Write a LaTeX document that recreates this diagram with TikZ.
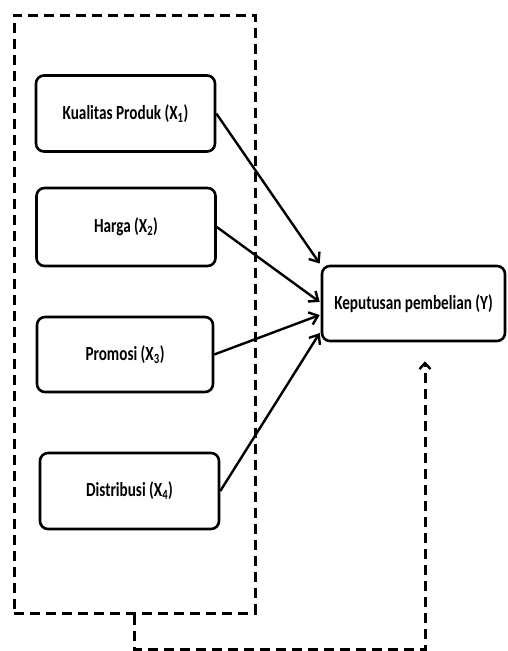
\documentclass[tikz,border=0pt]{standalone}
\usepackage{fontspec}
\setmainfont{Carlito}[FakeStretch=0.76]
\usetikzlibrary{arrows.meta}
\begin{document}
\begin{tikzpicture}[x=1pt,y=-1pt,
  varbox/.style={draw=black,line width=2.6pt,rounded corners=8pt,fill=white,
    minimum width=179pt,minimum height=76pt,inner sep=0pt,
    font=\fontsize{20}{22}\selectfont\bfseries},
  grpbox/.style={draw=black,line width=3pt,dash pattern=on 10pt off 6pt},
  conn/.style={draw=black,line width=2.4pt,-{Straight Barb[length=8pt,width=13pt,line width=2.4pt]}},
  fback/.style={draw=black,line width=3pt,dash pattern=on 10pt off 6pt,
    -{Straight Barb[length=6pt,width=11pt,line width=2.4pt]}}]
\useasboundingbox (0,0) rectangle (507,651);
\node[grpbox,minimum width=241pt,minimum height=598pt,inner sep=0pt] (grp) at (134.5,314) {};
\node[varbox] (b1) at (125.5,113.5) {Kualitas Produk (X\textsubscript{1})};
\node[varbox,minimum height=78pt] (b2) at (126,227) {Harga (X\textsubscript{2})};
\node[varbox,minimum width=176pt,minimum height=75pt] (b3) at (125,354.5) {Promosi (X\textsubscript{3})};
\node[varbox] (b4) at (129.5,491) {Distribusi (X\textsubscript{4})};
\node[varbox,minimum width=183pt,minimum height=75pt] (y) at (413.5,303.5) {Keputusan pembelian (Y)};
\draw[conn] (b1.east) -- ([xshift=-1pt,yshift=40pt]y.west);
\draw[conn] (b2.east) -- ([xshift=-1pt,yshift=1.5pt]y.west);
\draw[conn] (b3.east) -- ([xshift=-1pt,yshift=-11.5pt]y.west);
\draw[conn] (b4.east) -- ([xshift=-1pt,yshift=-29.5pt]y.west);
\coordinate (fb) at ([xshift=11.5pt,yshift=-19pt]y.south);
\draw[fback] (grp.south) -- ++(0,35) -| (fb);
\end{tikzpicture}
\end{document}
